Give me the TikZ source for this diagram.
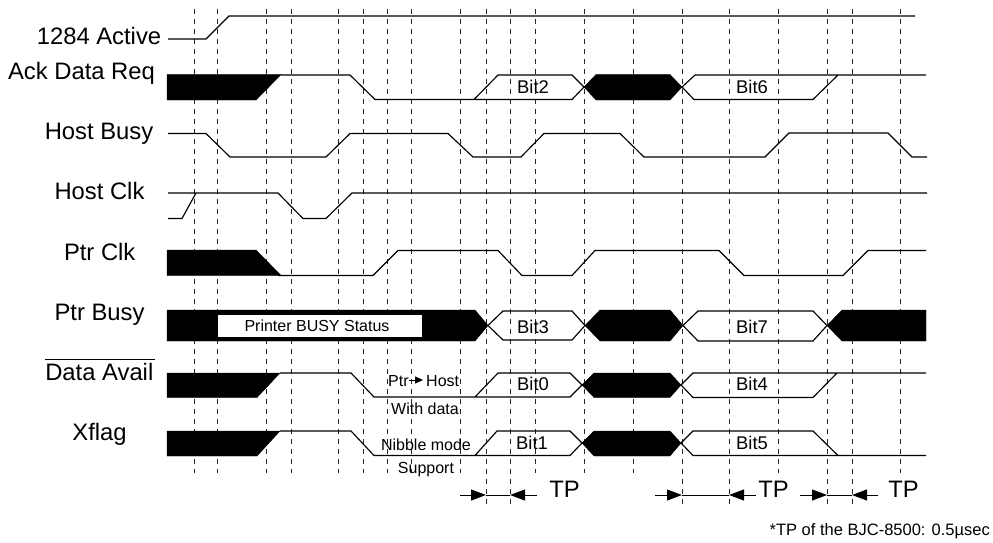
\documentclass[tikz,border=0pt]{standalone}
\usepackage{fontspec}
\setmainfont{Liberation Sans}
\usetikzlibrary{arrows.meta}
\tikzset{
  sig/.style={line width=1.15pt,black,line join=miter},
  blk/.style={fill=black,draw=black,line width=0.4pt},
  guide/.style={line width=0.9pt,black!85,dash pattern=on 5pt off 5pt},
  big/.style={font=\fontsize{23.8}{23.8}\selectfont,anchor=base,inner sep=0pt},
  small/.style={font=\fontsize{16}{16}\selectfont,anchor=base,inner sep=0pt},
  bit/.style={font=\fontsize{18.4}{18.4}\selectfont,anchor=base,inner sep=0pt},
  tparrow/.style={line width=0.9pt,-{Triangle[length=15pt,width=11pt]}},
  tpline/.style={line width=0.9pt}
}
\begin{document}
\begin{tikzpicture}[x=1pt,y=-1pt]
\useasboundingbox (0,0) rectangle (993,543);
% guides
\foreach \x in {194,217,266,291,338,363,387,411,460,535,584,633,778,900}
  \draw[guide] (\x,9) -- (\x,473);
\foreach \x in {486,510,682,729,827,852}
  \draw[guide] (\x,9) -- (\x,505);
% 1284 Active
\draw[sig] (168,39) -- (206,39) -- (229,16) -- (915,16);
% Ack Data Req
\fill[blk] (167,74.5) -- (281,74.5) -- (256,100) -- (167,100) -- cycle;
\draw[sig] (281,75) -- (350,75) -- (375,99.5) -- (474,99.5) -- (498,75) -- (572,75) -- (584,87) -- (572,99.5) -- (474,99.5);
\fill[blk] (584,87) -- (596,74.5) -- (670,74.5) -- (682,87) -- (670,100) -- (596,100) -- cycle;
\draw[sig] (926,75) -- (695,75) -- (682,87) -- (694,99.5) -- (813,99.5) -- (838,75);
% Host Busy
\draw[sig] (168,133.5) -- (206,133.5) -- (230,157) -- (326,157) -- (350,133.5) -- (448,133.5) -- (473,157) -- (521,157) -- (544,133.5) -- (620,133.5) -- (644,157) -- (765,157) -- (789,133) -- (888,133) -- (912,157) -- (927,157);
% Host Clk
\draw[sig] (168,193) -- (278,193) -- (303,218.5) -- (326,218.5) -- (352,193) -- (927,193);
\draw[sig] (168,218.5) -- (182,218.5) -- (196,193);
% Ptr Clk
\fill[blk] (167,250) -- (256,250) -- (281,275.5) -- (167,275.5) -- cycle;
\draw[sig] (278,275.5) -- (373,275.5) -- (398,250.5) -- (498,250.5) -- (522,275.5) -- (572,275.5) -- (595,250.5) -- (719,250.5) -- (744,275.5) -- (843,275.5) -- (868,250.5) -- (926,250.5);
% Ptr Busy
\fill[blk] (167,310) -- (475,310) -- (488,325.5) -- (475,341) -- (167,341) -- cycle;
\node[draw=none,fill=white,minimum width=204pt,minimum height=22pt,inner sep=0pt] (busybox) at (320,326) {};
\node[small] (busytext) at (317,331) {Printer BUSY Status};
\draw[sig] (488,325.5) -- (503,311) -- (572,311) -- (585,325.5) -- (572,340) -- (503,340) -- cycle;
\fill[blk] (585,325.5) -- (600,310) -- (670,310) -- (683,325.5) -- (670,341) -- (600,341) -- cycle;
\draw[sig] (683,325.5) -- (698,311) -- (813,311) -- (827,325.5) -- (813,341) -- (698,341) -- cycle;
\fill[blk] (827,325.5) -- (842,310) -- (926,310) -- (926,341) -- (842,341) -- cycle;
% Data Avail
\fill[blk] (167,373) -- (280,373) -- (257,397.5) -- (167,397.5) -- cycle;
\draw[sig] (280,373) -- (351,373) -- (374,397) -- (475,397) -- (498,373) -- (570,373) -- (582,385) -- (570,397) -- (475,397);
\fill[blk] (582,385) -- (594,373) -- (670,373) -- (681,385) -- (670,397.5) -- (594,397.5) -- cycle;
\draw[sig] (926,373) -- (693,373) -- (681,385) -- (693,397.5) -- (813,397.5) -- (837,373);
% Xflag
\fill[blk] (167,431) -- (280,431) -- (257,456) -- (167,456) -- cycle;
\draw[sig] (280,431) -- (351,431) -- (374,455.5) -- (475,455.5) -- (497,431) -- (570,431) -- (582,443) -- (570,455.5) -- (475,455.5);
\fill[blk] (582,443) -- (594,431) -- (670,431) -- (681,443) -- (670,456) -- (594,456) -- cycle;
\draw[sig] (681,443) -- (693,431) -- (813,431) -- (838,455.5) -- (926,455.5);
\draw[sig] (681,443) -- (693,455.5) -- (838,455.5);
% labels
\node[big] (l1) at (99,45) {1284 Active};
\node[big] (l2) at (81.5,79) {Ack Data Req};
\node[big] (l3) at (99,139.5) {Host Busy};
\node[big] (l4) at (99.5,199.5) {Host Clk};
\node[big] (l5) at (99.7,260) {Ptr Clk};
\node[big] (l6) at (99.5,320) {Ptr Busy};
\node[big] (l7) at (99.3,380) {Data Avail};
\node[big] (l8) at (99.5,440) {Xflag};
\coordinate (ovl) at (45,359);
\coordinate (ovr) at (155,359);
\draw[line width=0.9pt] (ovl) -- (ovr);
% bits
\node[bit] (b2) at (533,93.3) {Bit2};
\node[bit] (b6) at (752,93.3) {Bit6};
\node[bit] (b3) at (533,333) {Bit3};
\node[bit] (b7) at (752,333) {Bit7};
\node[bit] (b0) at (533,390) {Bit0};
\node[bit] (b4) at (752,390) {Bit4};
\node[bit] (b1) at (532,449) {Bit1};
\node[bit] (b5) at (752,449) {Bit5};
% small notes
\node[small,anchor=base west] (pt) at (388,386) {Ptr};
\node[small,anchor=base west] (ho) at (426,386) {Host};
\draw[line width=0.8pt,-{Triangle[length=8pt,width=7pt]}] (409,380) -- (423,380);
\node[small] (wd) at (425,414) {With data};
\node[small] (nm) at (426,450) {Nibble mode};
\node[small] (su) at (426,473) {Support};
% TP
\foreach \a/\b/\n in {460/486/a,537/510/b,655/682/c,756/729/d,800/827/e,878/852/f}{
  \coordinate (s\n) at (\a,495);
  \coordinate (t\n) at (\b,495);
  \draw[tparrow] (s\n) -- (t\n);
}
\draw[tpline] (ta) -- (tb);
\draw[tpline] (tc) -- (td);
\draw[tpline] (te) -- (tf);
\node[big] (tp1) at (564.5,497) {TP};
\node[big] (tp2) at (773.5,497) {TP};
\node[big] (tp3) at (903.5,497) {TP};
\node[font=\fontsize{16.5}{16.5}\selectfont,anchor=base east,inner sep=0pt] (fn) at (990,535) {*TP of the BJC-8500: 0.5µsec};
\end{tikzpicture}
\end{document}
